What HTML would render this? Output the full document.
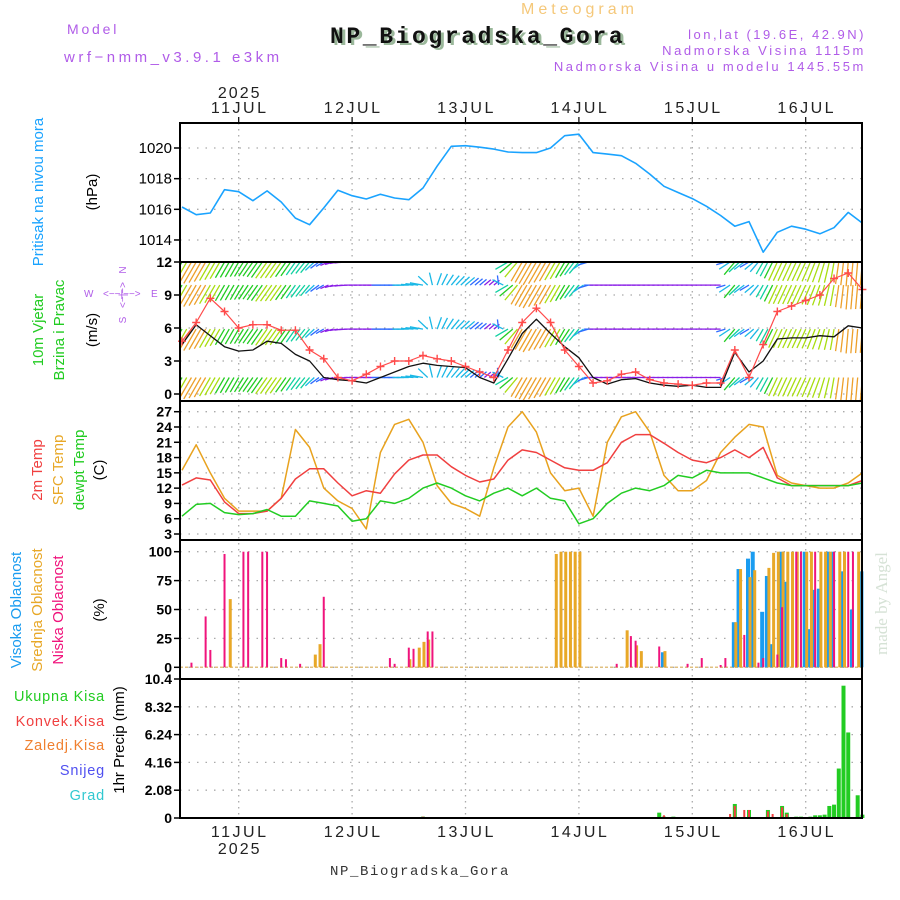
<!DOCTYPE html>
<html><head><meta charset="utf-8">
<style>
html,body{margin:0;padding:0;background:#fff;}
svg{display:block;font-family:"Liberation Sans",sans-serif;}
</style></head>
<body>
<svg id="chart" width="900" height="900" viewBox="0 0 900 900" xmlns="http://www.w3.org/2000/svg">
<rect width="900" height="900" fill="#fff"/>
<text x="67" y="34" font-size="14" fill="#b05ce8" letter-spacing="2.8">Model</text>
<text x="64" y="62" font-size="15" fill="#b05ce8" letter-spacing="3.5">wrf−nmm_v3.9.1 e3km</text>
<text x="521" y="14" font-size="16" fill="#f5c87a" letter-spacing="4">Meteogram</text>
<text x="333" y="45" font-family="Liberation Mono,monospace" font-weight="bold" font-size="23" fill="#9bb89b" letter-spacing="2.6">NP_Biogradska_Gora</text>
<text x="330" y="43" font-family="Liberation Mono,monospace" font-weight="bold" font-size="23" fill="#111" letter-spacing="2.6">NP_Biogradska_Gora</text>
<text x="866" y="39" text-anchor="end" font-size="13" fill="#b05ce8" letter-spacing="2.5">lon,lat (19.6E, 42.9N)</text>
<text x="866" y="55" text-anchor="end" font-size="13" fill="#b05ce8" letter-spacing="2.6">Nadmorska Visina 1115m</text>
<text x="866" y="71" text-anchor="end" font-size="13" fill="#b05ce8" letter-spacing="2.6">Nadmorska Visina u modelu 1445.55m</text>
<text x="330" y="875" font-family="Liberation Mono,monospace" font-size="14" fill="#333" letter-spacing="1.6">NP_Biogradska_Gora</text>
<text transform="translate(887,655) rotate(-90)" font-family="Liberation Serif,serif" font-size="17" fill="#d6e2d6">made by Angel</text>
<g id="g"></g>
</svg>
<script>
// ---------- data ----------
const pressure=[1016.15,1015.65,1015.76,1017.28,1017.15,1016.56,1017.2,1016.48,1015.43,1015.0,1016.09,1017.24,1016.89,1016.67,1016.98,1016.74,1016.63,1017.39,1018.81,1020.11,1020.15,1020.05,1019.93,1019.74,1019.7,1019.7,1020.0,1020.8,1020.9,1019.7,1019.6,1019.5,1019.0,1018.3,1017.5,1017.1,1016.7,1016.2,1015.6,1014.9,1015.2,1013.2,1014.5,1014.9,1014.7,1014.4,1014.8,1015.8,1015.1];
const windSpeed=[4.5,6.3,5.3,4.3,3.9,4.0,4.8,4.6,3.6,3.0,1.5,1.3,1.2,1.0,1.5,2.0,2.5,2.8,2.6,2.5,2.4,1.5,1.0,3.2,5.5,6.8,5.5,4.3,3.3,1.5,0.9,1.3,1.4,1.0,0.8,0.7,0.8,0.6,0.6,3.8,2.0,3.0,5.0,5.1,5.1,5.3,5.2,6.2,6.0];
const windGust=[4.8,6.5,8.7,7.5,6.0,6.3,6.3,5.8,5.8,4.0,3.2,1.5,1.2,1.8,2.5,3.0,3.0,3.5,3.2,3.0,2.5,2.0,1.5,4.0,6.5,7.8,6.5,4.0,2.5,1.0,1.2,1.8,2.0,1.3,1.0,0.9,0.8,1.0,1.0,4.0,1.5,4.5,7.5,8.0,8.5,9.0,10.5,11.0,9.5];
const windDir=[30,30,30,30,30,35,35,35,35,40,60,80,90,90,90,90,90,100,200,220,230,230,230,60,30,30,30,30,40,90,90,90,90,90,90,90,90,90,90,40,60,30,25,25,25,20,10,5,5];
const temp2m=[12.6,14,13.6,9.3,7,7,7.5,10,13.8,15.8,15.8,13,10.5,11.5,11,14.8,17.5,18.5,18.5,16.2,14.5,13.2,13.8,17.5,19.5,19,17.5,16,15.5,15.5,17,21,22.5,22.5,20.8,19,17.5,17,18,19.5,18,20,14,12.5,12.5,12.5,12.5,12.5,13.5];
const tempSfc=[15.5,20.5,15,10,7.5,7.5,7.5,10,23.5,20,12,9.5,8,4,19,24.5,25.5,21,12.5,9,8,6.5,16,24,27,23,15,11.5,12,6.5,21,26,27,23,14.5,11.5,11.5,13.5,19,22,24.5,24,14.5,13,12.5,12,12,13,15];
const dewpt=[6.5,8.8,9,7.2,6.8,7,7.8,6.5,6.5,9.5,9,8.5,5.5,6,9.5,9,10,12,13,12,10.5,9.5,11,12,10.5,12,10,9.5,5,6,9,11,12,11.5,12.5,14.5,14,15.5,15,15,15,14,13,12.5,12.5,12.5,12.5,12.5,13];
const lowHours=[2,5,6,9,13,14,17,18,21,22,25,30,44,45,48,49,52,53,92,95,96,101,107,110,114,115,119,122,123,126,127,130,131,134,138,141,142];
const lowVals=[4,44,15,98,100,100,100,100,8,7,3,61,8,3,17,16,31,31,3,27,23,18,3,8,2,8,28,4,8,11,52,100,100,100,100,100,100];
const midHours=[10,28,29,48,50,51,52,79,80,81,82,83,84,94,96,97,102,117,118,120,121,124,125,126,127,128,129,130,132,133,135,136,137,139,140,143];
const midVals=[59,11,20,7,17,22,24,98,100,100,100,100,100,32,19,14,14,39,85,78,84,86,99,100,100,100,100,100,100,100,100,100,100,100,100,100];
const highHours=[102,117,118,120,121,123,124,125,127,128,132,133,134,135,137,138,140,142,144];
const highVals=[13,39,85,94,100,48,79,20,100,74,100,33,67,68,100,100,83,50,83];
const rainHours=[51,101,102,104,117,120,124,127,128,130,131,133,134,135,136,137,138,139,140,141,143,144];
const rainVals=[0.1,0.4,0.1,0.1,1.05,0.6,0.6,0.9,0.4,0.1,0.1,0.1,0.2,0.2,0.25,0.9,1.0,3.7,9.9,6.4,1.7,0.25];
const convHours=[51,102,116,117,119,120,124,125,127,128];
const convVals=[0.1,0.2,0.3,0.9,0.6,0.6,0.5,0.3,0.8,0.3];
const dayLabels=["11JUL","12JUL","13JUL","14JUL","15JUL","16JUL"];
const pTicks=[1014,1016,1018,1020];
const wTicks=[0,3,6,9,12];
const tTicks=[3,6,9,12,15,18,21,24,27];
const cTicks=[0,25,50,75,100];
const rTicks=["0","2.08","4.16","6.24","8.32","10.4"];
const windBands=[12,9.9,5.9,1.5];

// ---------- axes ----------
const X0=182,PX=4.725,STEP=3,L=180,R=862;
const xh=h=>X0+h*PX;
const yP=v=>148+(1020-v)*15.33;
const yW=v=>394-v*11;
const yT=v=>411.7+(27-v)*5.096;
const yC=v=>667.3-v*1.156;
const yR=v=>818-v*13.365;
const panels=[[123,262],[262,401],[401,540],[540,679],[679,818]];
const NS="http://www.w3.org/2000/svg";
const g=document.getElementById('g');
function mk(tag,attrs,parent){const e=document.createElementNS(NS,tag);for(const k in attrs)e.setAttribute(k,attrs[k]);(parent||g).appendChild(e);return e;}
function txt(s,attrs){const e=mk('text',attrs);e.textContent=s;return e;}

const grid=mk('g',{});


dayLabels.forEach((d,i)=>{
  const x=xh(12+24*i);
  const ln=mk('line',{x1:x,x2:x,y1:123,y2:818,stroke:'#aaa','stroke-width':1.3,'stroke-dasharray':'1.5,4.5'},grid);
  
  
});
function hgrid(ticks,fy,fmt,bold,name){
  ticks.forEach(t=>{
    const v=parseFloat(t),y=fy(v);
    const ln=mk('line',{x1:L,x2:R,y1:y,y2:y,stroke:'#aaa','stroke-width':1.3,'stroke-dasharray':'1.5,7'},grid);
    
    
    mk('line',{x1:L-6,x2:L,y1:y,y2:y,stroke:'#000','stroke-width':1.5});
    const tl=txt(String(t),{x:L-8,y:y+5,'text-anchor':'end','font-size':bold?14:15,'font-weight':bold?'bold':'normal',fill:'#000'});
    
    
  });
}
hgrid(pTicks,yP,null,false,'pressure');
hgrid(wTicks,yW,null,true,'wind');
hgrid(tTicks,yT,null,true,'temp');
hgrid(cTicks,yC,null,true,'cloud');
hgrid(rTicks,yR,null,true,'precip');

function poly(vals,fy,color,name,w){
  const pts=vals.map((v,i)=>xh(i*STEP).toFixed(1)+','+fy(v).toFixed(1)).join(' ');
  const p=mk('polyline',{points:pts,fill:'none',stroke:color,'stroke-width':w||1.5,'stroke-linejoin':'round'});
  
  
  return p;
}
poly(pressure,yP,'#1aa3ff','pressure-line',1.6);

function spColor(s){if(s<1.5)return'#8a1ee6';if(s<2.2)return'#2f6bff';if(s<3)return'#1ab8e6';if(s<3.8)return'#10d0a0';if(s<4.6)return'#22cc22';if(s<5.4)return'#a8dd10';if(s<7)return'#eda02a';return'#ff4060';}
const wg=mk('g',{});


const clip=mk('clipPath',{id:'wclip'});mk('rect',{x:L,y:262,width:R-L,height:139},clip);
wg.setAttribute('clip-path','url(#wclip)');
function interp(arr,h){const i=Math.min(Math.floor(h/STEP),arr.length-2);const f=h/STEP-i;return arr[i]*(1-f)+arr[i+1]*f;}
for(let h=0;h<=144;h++){
  const s=interp(windSpeed,h),d=interp(windDir,h)*Math.PI/180;
  const len=4+s*3.3;
  const dx=-Math.sin(d)*len,dy=Math.cos(d)*len;
  windBands.forEach(b=>{
    const x=xh(h),y=yW(b);
    const a=mk('line',{x1:x,y1:y,x2:x+dx,y2:y+dy,stroke:spColor(s),'stroke-width':1.3},wg);
    
    
  });
}
poly(windSpeed,yW,'#111','wind-speed-line',1.3);
poly(windGust,yW,'#ff4a4a','wind-gust-line',1.2);
windGust.forEach((v,i)=>{
  const x=xh(i*STEP),y=yW(v);
  const c=mk('path',{d:`M${x-4},${y}h8M${x},${y-4}v8`,stroke:'#ff4a4a','stroke-width':1.4});
  
  
});

poly(tempSfc,yT,'#e8a21e','sfc-temp-line',1.5);
poly(temp2m,yT,'#f04040','temp-2m-line',1.5);
poly(dewpt,yT,'#22cc22','dewpoint-line',1.5);

function bars(hours,vals,fy,color,w,off,name){
  hours.forEach((h,i)=>{
    const x=xh(h)+off,y=fy(vals[i]),y0=fy(0);
    const r=mk('rect',{x:x-w/2,y:y,width:w,height:Math.max(0,y0-y),fill:color});
    
    
  });
}
mk('line',{x1:L,x2:R,y1:yC(0),y2:yC(0),stroke:'#e0c080','stroke-width':1.5,'stroke-dasharray':'3,2'});
bars(highHours,highVals,yC,'#1a9cf0',4,-1,'high-cloud-bar');
bars(midHours,midVals,yC,'#e8a828',3,1,'mid-cloud-bar');
bars(lowHours,lowVals,yC,'#f0147c',2,0,'low-cloud-bar');
bars(rainHours,rainVals,yR,'#22cc22',4,0,'total-precip-bar');
bars(convHours,convVals,yR,'#f04040',2,0,'convective-precip-bar');

panels.forEach((p,i)=>{
  const r=mk('rect',{x:L,y:p[0],width:R-L,height:p[1]-p[0],fill:'none',stroke:'#000','stroke-width':2});
  
  
});
dayLabels.forEach((d,i)=>{
  const x=xh(12+24*i);
  mk('line',{x1:x,x2:x,y1:117,y2:123,stroke:'#000','stroke-width':1.2});
  const t1=txt(d,{x:x+1,y:113,'text-anchor':'middle','font-size':16,fill:'#222','letter-spacing':'2.5'});
  
  
  const t2=txt(d,{x:x+1,y:837,'text-anchor':'middle','font-size':16,fill:'#222','letter-spacing':'2.5'});
  
  
});
const y1=txt('2025',{x:xh(12)+1,y:98,'text-anchor':'middle','font-size':16,fill:'#222','letter-spacing':'2'});


const y2=txt('2025',{x:xh(12)+1,y:854,'text-anchor':'middle','font-size':16,fill:'#222','letter-spacing':'2'});



function rt(s,x,y,color,size,name){const e=txt(s,{transform:`translate(${x},${y}) rotate(-90)`,'text-anchor':'middle','font-size':size||15,fill:color});
  return e;}
rt('Pritisak na nivou mora',43,192,'#1aa3ff',15,'pressure-title');
rt('(hPa)',97,192,'#000',15,'pressure-unit');
rt('10m Vjetar',43,330,'#22cc22',15,'wind-title-1');
rt('Brzina i Pravac',64,330,'#22cc22',15,'wind-title-2');
rt('(m/s)',97,330,'#000',15,'wind-unit');
rt('2m Temp',42,470,'#f04040',15,'temp-2m-title');
rt('SFC Temp',63,470,'#e8a828',15,'sfc-temp-title');
rt('dewpt Temp',84,470,'#22cc22',15,'dewpt-title');
rt('(C)',104,470,'#000',15,'temp-unit');
rt('Visoka Oblacnost',21,610,'#1a9cf0',15,'high-cloud-title');
rt('Srednja Oblacnost',42,610,'#e8a828',15,'mid-cloud-title');
rt('Niska Oblacnost',63,610,'#f0147c',15,'low-cloud-title');
rt('(%)',104,610,'#000',15,'cloud-unit');
rt('1hr Precip (mm)',124,740,'#000',15,'precip-unit');
[['Ukupna  Kisa','#22cc22',701],['Konvek.Kisa','#f04040',726],['Zaledj.Kisa','#f08030',750],['Snijeg','#5050f0',775],['Grad','#30c8d0',800]].forEach(l=>{
  const e=txt(l[0],{x:105,y:l[2],'text-anchor':'end','font-size':14.5,fill:l[1],'letter-spacing':'0.8'});
  
});
const cg=mk('g',{fill:'#b05ce8','font-size':10});


txt('W',{x:84,y:297,fill:'#b05ce8','font-size':10});
txt('E',{x:151,y:297,fill:'#b05ce8','font-size':10});
txt('<−−|−−>',{x:103,y:297,fill:'#b05ce8','font-size':10});
txt('N',{transform:'translate(126,270) rotate(-90)',fill:'#b05ce8','font-size':10,'text-anchor':'middle'});
txt('<−|−>',{transform:'translate(126,295) rotate(-90)',fill:'#b05ce8','font-size':10,'text-anchor':'middle'});
txt('S',{transform:'translate(126,320) rotate(-90)',fill:'#b05ce8','font-size':10,'text-anchor':'middle'});
</script>
</body></html>
